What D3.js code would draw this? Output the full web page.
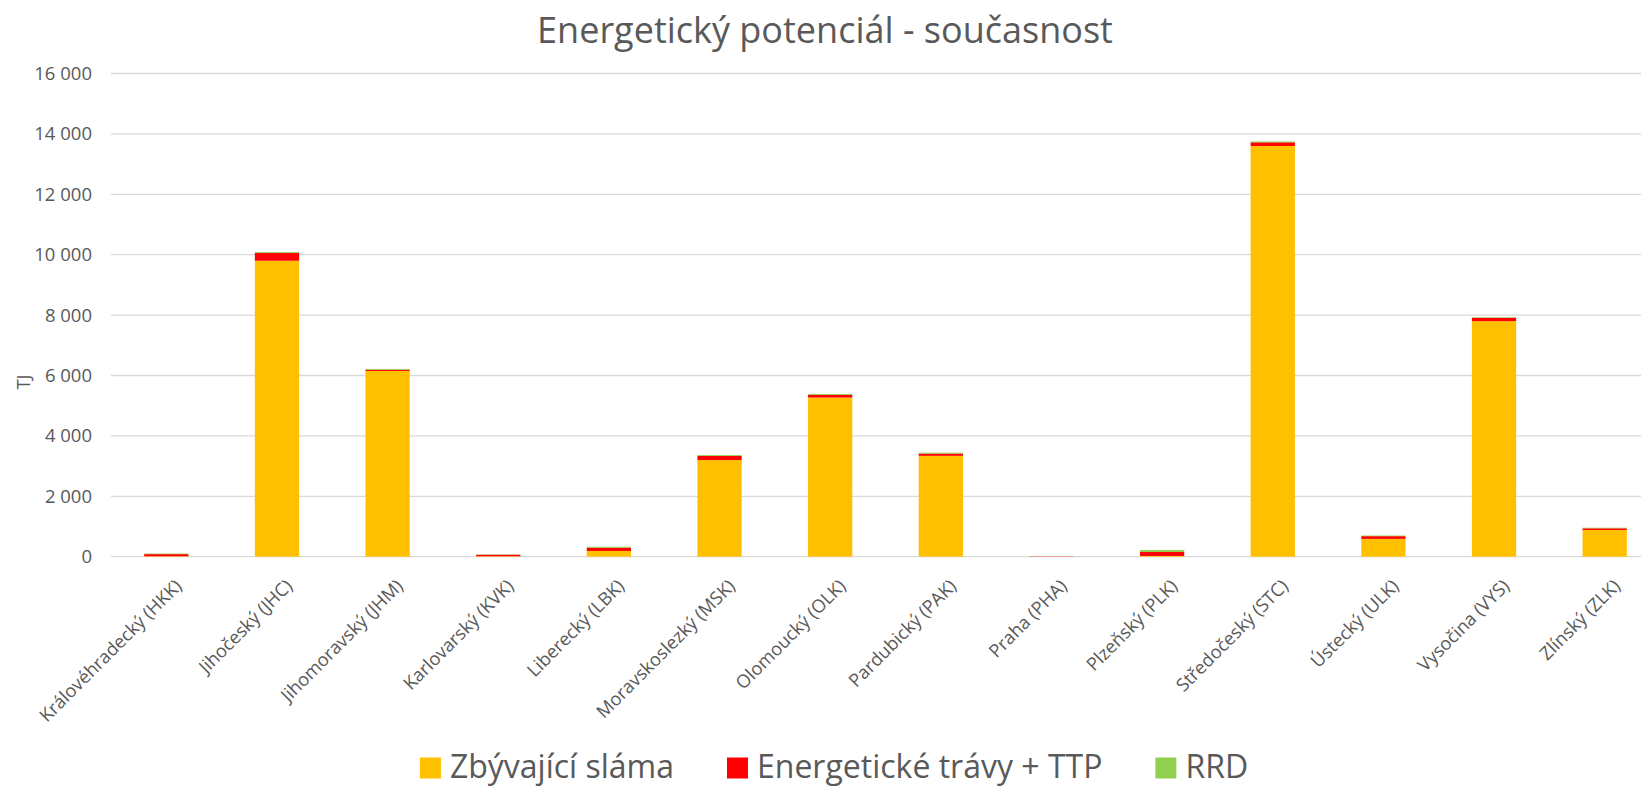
<!DOCTYPE html>
<html>
<head>
<meta charset="utf-8">
<script src="https://cdn.jsdelivr.net/npm/d3@7"></script>
<style>
  html, body { margin: 0; padding: 0; background: #fff; overflow: hidden; }
  text { font-family: "Open Sans", "Noto Sans", sans-serif; fill: #595959; }
</style>
</head>
<body>
<svg id="chart" width="1641" height="789"></svg>
<script>
const categories = [
  "Královéhradecký (HKK)", "Jihočeský (JHC)", "Jihomoravský (JHM)", "Karlovarský (KVK)",
  "Liberecký (LBK)", "Moravskoslezký (MSK)", "Olomoucký (OLK)", "Pardubický (PAK)",
  "Praha (PHA)", "Plzeňský (PLK)", "Středočeský (STC)", "Ústecký (ULK)",
  "Vysočina (VYS)", "Zlínský (ZLK)"
];
const seriesNames = ["Zbývající sláma", "Energetické trávy + TTP", "RRD"];
const slama = [15, 9800, 6150, 15, 190, 3200, 5270, 3340, 3, 25, 13600, 590, 7800, 885];
const travy = [70, 255, 40, 50, 110, 135, 90, 75, 8, 130, 120, 90, 110, 55];
const rrd   = [20, 30, 30, 10, 30, 30, 30, 30, 0, 65, 30, 20, 20, 20];
const yTicks = [0, 2000, 4000, 6000, 8000, 10000, 12000, 14000, 16000];
const colors = ["#FFC000", "#FF0000", "#92D050"];

const svg = d3.select("#chart");
const plot = { left: 111, right: 1660, top: 73.5, bottom: 556.7 };

const x = d3.scaleBand().domain(categories).range([plot.left, plot.right])
  .paddingInner(0.6).paddingOuter(0.3);
const y = d3.scaleLinear().domain([0, 16000]).range([plot.bottom, plot.top]);

const fmt = v => d3.format(",")(v).replace(/,/g, " ");

// gridlines
svg.append("g").selectAll("line").data(yTicks).join("line")
  .attr("x1", plot.left).attr("x2", plot.right)
  .attr("y1", d => y(d)).attr("y2", d => y(d))
  .attr("stroke", "#d9d9d9").attr("stroke-width", 1.3);

// y tick labels
const yAxis = d3.axisLeft(y).tickValues(yTicks).tickFormat(fmt).tickSize(0).tickPadding(0);
const yg = svg.append("g").attr("transform", `translate(92,0)`).call(yAxis);
yg.select(".domain").remove();
yg.selectAll("text").style("font-family", '"Open Sans", sans-serif').style("font-size", "18.5px").attr("fill", "#595959");

// stacked bars
const rows = categories.map((c, i) => ({ cat: c, s0: slama[i], s1: travy[i], s2: rrd[i] }));
const stack = d3.stack().keys(["s0", "s1", "s2"])(rows);
svg.append("g").selectAll("g").data(stack).join("g")
  .attr("fill", (d, i) => colors[i])
  .selectAll("rect").data(d => d).join("rect")
  .attr("x", d => x(d.data.cat))
  .attr("width", x.bandwidth())
  .attr("y", d => y(d[1]))
  .attr("height", d => Math.max(0, y(d[0]) - y(d[1])));

// x labels
const xAxis = d3.axisBottom(x).tickSize(0).tickPadding(0);
const xg = svg.append("g").attr("transform", `translate(0,${plot.bottom})`).call(xAxis);
xg.select(".domain").remove();
xg.selectAll("text")
  .style("font-family", '"Open Sans", sans-serif').style("font-size", "18.2px").attr("fill", "#595959")
  .attr("text-anchor", "end")
  .attr("dy", "0.35em")
  .attr("y", 0)
  .attr("transform", "translate(12,26) rotate(-45)");

// y axis title
svg.append("text")
  .attr("transform", "translate(30,382) rotate(-90)")
  .attr("text-anchor", "middle")
  .style("font-size", "18.5px")
  .text("TJ");

// title
svg.append("text")
  .attr("x", 825).attr("y", 43)
  .attr("text-anchor", "middle")
  .style("font-size", "36px").style("font-weight", 400)
  .text("Energetický potenciál - současnost");

// legend
const lg = svg.append("g");
let cx = 0;
seriesNames.forEach((name, i) => {
  const g = lg.append("g").attr("transform", `translate(${cx},0)`);
  g.append("rect").attr("x", 0).attr("y", 757.5).attr("width", 21).attr("height", 21).attr("fill", colors[i]);
  const t = g.append("text").attr("x", 30).attr("y", 778).style("font-size", "32px").text(name);
  const w = t.node().getComputedTextLength();
  cx += 30 + w + 53;
});
const total = cx - 53;
lg.attr("transform", `translate(${834 - total / 2},0)`);
</script>
</body>
</html>
